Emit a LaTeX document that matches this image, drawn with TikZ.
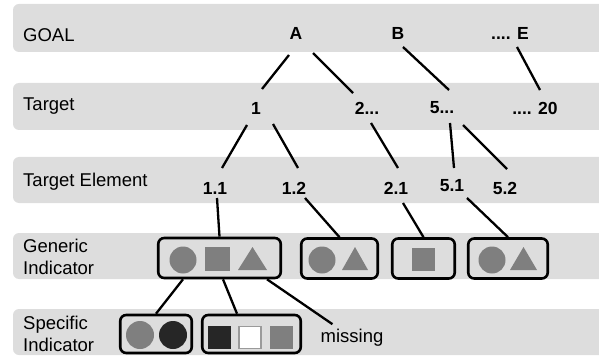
\documentclass[tikz,border=0pt]{standalone}
\usepackage{fontspec}
\setmainfont{Liberation Sans}
\definecolor{bandgray}{HTML}{DDDDDD}
\definecolor{shapegray}{HTML}{7F7F7F}
\definecolor{darkfill}{HTML}{262626}
\definecolor{lightborder}{HTML}{9A9A9A}
\begin{document}
\begin{tikzpicture}[x=1pt,y=-1pt,
  band/.style={fill=bandgray, rounded corners=6pt},
  lab/.style={anchor=west, align=left, font=\fontsize{18.5}{21.5}\selectfont, inner sep=0pt},
  tn/.style={font=\fontsize{17.5}{20}\selectfont\bfseries, inner sep=0pt},
  link/.style={line width=2.3pt, draw=black},
  ibox/.style={draw=black, line width=2.6pt, rounded corners=6pt, fill=bandgray, inner sep=0pt},
  gshape/.style={fill=shapegray},
]
\useasboundingbox (0,0) rectangle (599,358);
% bands
\fill[band] (13,4) rectangle (610,52);
\fill[band] (13,83) rectangle (610,130);
\fill[band] (13,157) rectangle (610,203);
\fill[band] (13,233) rectangle (610,279);
\fill[band] (13,309) rectangle (610,355);
% row labels
\node[lab] (lgoal) at (23,35) {GOAL};
\node[lab] (ltarget) at (23,106) {Target};
\node[lab] (lelem) at (23,182) {Target Element};
\node[lab] (lgen) at (23,257) {Generic\\Indicator};
\node[lab] (lspec) at (23,334) {Specific\\Indicator};
% tree nodes
\node[tn] (A) at (296,33) {A};
\node[tn] (B) at (398,33) {B};
\node[tn] (E) at (510,33) {.... E};
\node[tn] (n1) at (256,108) {1};
\node[tn] (n2) at (367,108) {2...};
\node[tn] (n5) at (442,108) {5...};
\node[tn] (n20) at (535,108) {.... 20};
\node[tn] (n11) at (215,188) {1.1};
\node[tn] (n12) at (294,188) {1.2};
\node[tn] (n21) at (396,188) {2.1};
\node[tn] (n51) at (452,186) {5.1};
\node[tn] (n52) at (505,188) {5.2};
% indicator boxes
\node[ibox, minimum width=122.5pt, minimum height=40pt] (G1) at (219.5,258) {};
\node[ibox, minimum width=76.5pt, minimum height=40pt] (G2) at (339.5,258.5) {};
\node[ibox, minimum width=62.5pt, minimum height=40pt] (G3) at (423.5,258.5) {};
\node[ibox, minimum width=79.5pt, minimum height=40pt] (G4) at (508,258.5) {};
\node[ibox, minimum width=71.5pt, minimum height=38pt] (S1) at (156,334) {};
\node[ibox, minimum width=98.5pt, minimum height=38pt] (S2) at (251.5,334) {};
\node[font=\fontsize{18.5}{21}\selectfont, inner sep=0pt] (miss) at (352,338) {missing};
% shapes in generic boxes
\fill[gshape] (183,260) circle (13.5);
\fill[gshape] (205,247) rectangle (230,271);
\fill[gshape] (238,270) -- (267,270) -- (252.5,247) -- cycle;
\fill[gshape] (322,260) circle (13.5);
\fill[gshape] (342,270) -- (368,270) -- (355,247) -- cycle;
\fill[gshape] (412,248) rectangle (435,271);
\fill[gshape] (492,260) circle (13.5);
\fill[gshape] (510,270) -- (537,270) -- (523.5,247) -- cycle;
% shapes in specific boxes
\fill[gshape] (140,335) circle (14);
\fill[darkfill] (173,335) circle (14);
\fill[darkfill] (207.5,326) rectangle (230.5,349);
\filldraw[fill=white, draw=lightborder, line width=1.2pt] (239,326.5) rectangle (261,348.5);
\fill[gshape] (269.5,326) rectangle (292.5,349);
% connectors
\draw[link] ([shift={(-7,22)}]A.center) -- ([shift={(6,-19)}]n1.center);
\draw[link] ([shift={(17,20)}]A.center) -- ([shift={(-14,-15)}]n2.center);
\draw[link] ([shift={(5,14)}]B.center) -- ([shift={(7,-18)}]n5.center);
\draw[link] ([shift={(7,14)}]E.center) -- ([shift={(5,-18)}]n20.center);
\draw[link] ([shift={(-9,17)}]n1.center) -- ([shift={(7,-20)}]n11.center);
\draw[link] ([shift={(17,16)}]n1.center) -- ([shift={(4,-20)}]n12.center);
\draw[link] ([shift={(4,15)}]n2.center) -- ([shift={(2,-20)}]n21.center);
\draw[link] ([shift={(8,15)}]n5.center) -- ([shift={(2,-18)}]n51.center);
\draw[link] ([shift={(21,17)}]n5.center) -- ([shift={(2,-19)}]n52.center);
\draw[link] ([shift={(2,10)}]n11.center) -- (G1.north);
\draw[link] ([shift={(11,10)}]n12.center) -- (G2.north);
\draw[link] ([shift={(7,15)}]n21.center) -- (G3.north);
\draw[link] ([shift={(15,12)}]n51.center) -- (G4.north);
\draw[link] ([xshift=-36.5pt]G1.south) -- (S1.north);
\draw[link] ([xshift=3.5pt]G1.south) -- ([xshift=-14.5pt]S2.north);
\draw[link] ([xshift=47.5pt]G1.south) -- ([shift={(12,-5)}]miss.north west);
\end{tikzpicture}
\end{document}
